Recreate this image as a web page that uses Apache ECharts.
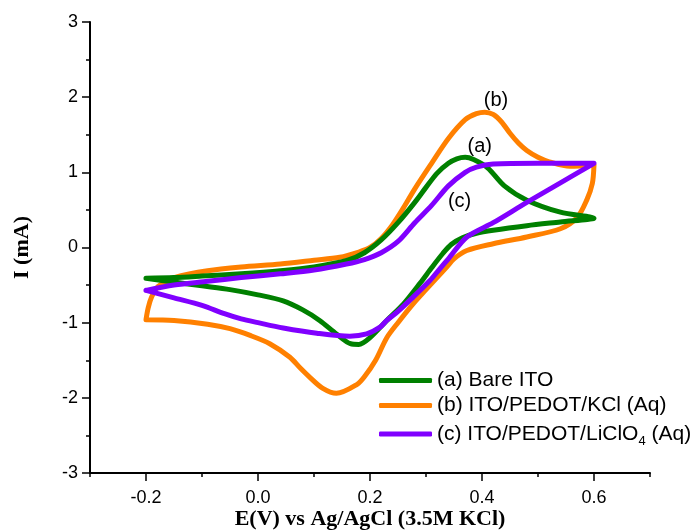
<!DOCTYPE html>
<html>
<head>
<meta charset="utf-8">
<script src="https://cdn.jsdelivr.net/npm/echarts@6/dist/echarts.min.js"></script>
<style>html,body{margin:0;padding:0;background:#fff}#c{width:696px;height:531px}</style>
</head>
<body>
<div id="c"></div>
<script>
// Series names
const seriesNames = ['(a) Bare ITO', '(b) ITO/PEDOT/KCl (Aq)', '(c) ITO/PEDOT/LiClO4 (Aq)'];
// (a) Bare ITO: potential (V) and current (mA), forward then reverse scan
const bareE = [-0.2,-0.15,-0.1,-0.03,0.04,0.1,0.16,0.19,0.22,0.25,0.28,0.3,0.32,0.34,0.355,0.37,0.385,0.41,0.44,0.48,0.54,0.6,
  0.54,0.48,0.42,0.39,0.365,0.345,0.33,0.31,0.29,0.26,0.23,0.2,0.18,0.165,0.14,0.11,0.08,0.045,0.0,-0.05,-0.1,-0.15,-0.2];
const bareI = [-0.41,-0.40,-0.38,-0.35,-0.31,-0.26,-0.17,-0.07,0.1,0.33,0.6,0.8,0.99,1.12,1.18,1.2,1.17,1.06,0.82,0.63,0.47,0.39,
  0.34,0.29,0.23,0.19,0.13,0.04,-0.08,-0.27,-0.47,-0.75,-0.97,-1.2,-1.29,-1.28,-1.15,-0.97,-0.83,-0.71,-0.63,-0.56,-0.51,-0.46,-0.41];
// (b) ITO/PEDOT/KCl
const kclE = [-0.2,-0.196,-0.19,-0.18,-0.165,-0.15,-0.09,-0.03,0.04,0.1,0.146,0.18,0.2,0.22,0.24,0.26,0.28,0.31,0.34,0.37,0.39,0.405,0.42,0.435,0.45,0.465,0.48,0.5,0.52,0.557,0.6,
  0.597,0.587,0.57,0.54,0.48,0.42,0.373,0.35,0.337,0.3,0.277,0.25,0.23,0.21,0.19,0.177,0.14,0.115,0.093,0.075,0.057,0.021,-0.014,-0.05,-0.09,-0.15,-0.2];
const kclI = [-0.96,-0.8,-0.66,-0.53,-0.46,-0.40,-0.31,-0.26,-0.22,-0.17,-0.13,-0.06,0.0,0.12,0.3,0.53,0.78,1.12,1.45,1.7,1.78,1.8,1.77,1.67,1.52,1.39,1.29,1.2,1.14,1.08,1.1,
  0.85,0.63,0.4,0.25,0.14,0.05,-0.04,-0.15,-0.26,-0.56,-0.75,-1.0,-1.2,-1.5,-1.72,-1.82,-1.94,-1.87,-1.73,-1.6,-1.46,-1.28,-1.17,-1.08,-1.02,-0.97,-0.96];
// (c) ITO/PEDOT/LiClO4
const licE = [-0.2,-0.15,-0.09,-0.03,0.04,0.1,0.158,0.19,0.22,0.25,0.28,0.31,0.34,0.37,0.39,0.42,0.5,0.6,
  0.54,0.48,0.42,0.373,0.34,0.325,0.307,0.277,0.25,0.23,0.218,0.194,0.164,0.105,0.045,0.0,-0.03,-0.06,-0.1,-0.15,-0.2];
const licI = [-0.57,-0.5,-0.45,-0.4,-0.35,-0.3,-0.22,-0.16,-0.07,0.08,0.33,0.56,0.82,1.0,1.07,1.11,1.12,1.12,
  0.86,0.6,0.33,0.14,-0.15,-0.28,-0.44,-0.66,-0.85,-0.97,-1.06,-1.15,-1.18,-1.14,-1.07,-1.0,-0.95,-0.88,-0.77,-0.67,-0.57];
// Curve labels
const noteText = ['(b)', '(a)', '(c)'];
const noteE = [0.425, 0.396, 0.36];
const noteI = [1.96, 1.35, 0.61];
// Axis ticks
const xMajor = [-0.2, 0.0, 0.2, 0.4, 0.6];
const xMinor = [-0.3, -0.1, 0.1, 0.3, 0.5, 0.7];

const colors = ['#008000', '#FF8000', '#8000FF'];
const zip = (a, b) => a.map((v, i) => [v, b[i]]);
const curves = [zip(bareE, bareI), zip(kclE, kclI), zip(licE, licI)];
const sans = 'Liberation Sans, Arial, sans-serif';
const serif = 'Liberation Serif, Times New Roman, serif';

const chart = echarts.init(document.getElementById('c'), null, {renderer: 'canvas'});
const series = curves.map((d, k) => ({
  name: seriesNames[k], type: 'line', data: d, xAxisIndex: 0, yAxisIndex: 0,
  showSymbol: false, symbol: 'none', smooth: 0.3,
  lineStyle: {color: colors[k], width: 5, cap: 'round', join: 'round'},
  itemStyle: {color: colors[k]}, z: k === 2 ? 4 : (k === 0 ? 3 : 2)
}));

chart.setOption({
  animation: false,
  backgroundColor: '#fff',
  grid: {left: 90, right: 46, top: 22, bottom: 58, outerBoundsMode: 'none', containLabel: false},
  legend: {
    data: seriesNames, orient: 'vertical', left: 374, top: 365,
    icon: 'roundRect', itemWidth: 53, itemHeight: 5, itemGap: 4,
    textStyle: {fontFamily: sans, fontSize: 21, color: '#000', lineHeight: 21,
      rich: {t: {fontFamily: sans, fontSize: 21, color: '#000', lineHeight: 21},
             s: {fontFamily: sans, fontSize: 13, color: '#000', lineHeight: 13, padding: [15, 0, 0, 0]}}},
    formatter: function (n) {
      if (n.indexOf('LiClO4') >= 0) return '{t|(c) ITO/PEDOT/LiClO}{s|4}{t| (Aq)}';
      return '{t|' + n + '}';
    }
  },
  xAxis: [{
    type: 'value', min: -0.3, max: 0.7, interval: 0.1, position: 'bottom',
    name: 'E(V) vs Ag/AgCl (3.5M KCl)', nameLocation: 'middle', nameGap: 35, nameMoveOverlap: false,
    nameTextStyle: {fontFamily: serif, fontWeight: 'bold', fontSize: 22, color: '#000', lineHeight: 22},
    axisLine: {show: true, onZero: false, lineStyle: {color: '#000', width: 2}},
    axisTick: {show: true, customValues: xMajor, length: 8, lineStyle: {color: '#000', width: 1.5}},
    axisLabel: {customValues: xMajor, fontFamily: sans, fontSize: 18, color: '#000', margin: 16,
      formatter: v => Math.abs(v) < 1e-9 ? '0.0' : v.toFixed(1)},
    splitLine: {show: false}
  }, {
    type: 'value', min: -0.3, max: 0.7, interval: 0.1, position: 'bottom', offset: 0,
    axisLine: {show: false, onZero: false},
    axisTick: {show: true, customValues: xMinor, length: 4, lineStyle: {color: '#000', width: 1.5}},
    axisLabel: {show: false}, splitLine: {show: false}
  }],
  yAxis: {
    type: 'value', min: -3, max: 3, interval: 1,
    name: 'I (mA)', nameLocation: 'middle', nameGap: 57, nameRotate: 90, nameMoveOverlap: false,
    nameTextStyle: {fontFamily: serif, fontWeight: 'bold', fontSize: 22, color: '#000'},
    axisLine: {show: true, onZero: false, lineStyle: {color: '#000', width: 2}},
    axisTick: {show: true, length: 8, lineStyle: {color: '#000', width: 1.5}},
    minorTick: {show: true, splitNumber: 2, length: 4, lineStyle: {color: '#000', width: 1.5}},
    axisLabel: {fontFamily: sans, fontSize: 18, color: '#000', margin: 12},
    splitLine: {show: false}, minorSplitLine: {show: false}
  },
  series: series
});

// Curve annotations placed through the chart's own coordinate conversion
chart.setOption({
  graphic: noteText.map((t, i) => {
    const p = chart.convertToPixel({gridIndex: 0}, [noteE[i], noteI[i]]);
    return {type: 'text', x: p[0], y: p[1], z: 100,
      style: {text: t, fill: '#000', font: '20px ' + sans, align: 'center', verticalAlign: 'middle'}};
  })
});
</script>
</body>
</html>
